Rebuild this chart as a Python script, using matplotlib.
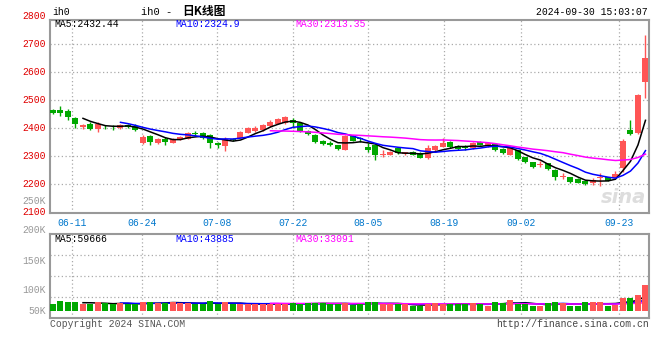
import matplotlib
matplotlib.use("Agg")
import matplotlib.pyplot as plt
import matplotlib.transforms as mtransforms
import numpy as np
import pandas as pd

# daily candles for ih0, oldest first
opens = [2465, 2466, 2462, 2436, 2405, 2415, 2398, 2405, 2405, 2400,
         2410, 2408, 2345, 2372, 2345, 2359, 2347, 2361, 2361, 2383,
         2383, 2375, 2345, 2337, 2362, 2366, 2383, 2388, 2392, 2407,
         2415, 2418, 2429, 2417, 2390, 2375, 2355, 2347, 2339, 2322,
         2372, 2365, 2333, 2340, 2302, 2304, 2327, 2307, 2315, 2311,
         2294, 2321, 2333, 2350, 2335, 2333, 2327, 2351, 2334, 2343,
         2324, 2305, 2321, 2295, 2277, 2268, 2274, 2250, 2224, 2224,
         2218, 2211, 2205, 2220, 2224, 2223, 2258, 2393, 2383, 2565]
closes = [2452, 2455, 2440, 2413, 2412, 2398, 2415, 2403, 2403, 2411,
          2405, 2393, 2369, 2351, 2361, 2351, 2361, 2369, 2383, 2377,
          2364, 2345, 2339, 2361, 2356, 2384, 2399, 2401, 2411, 2423,
          2432, 2440, 2417, 2387, 2377, 2350, 2344, 2340, 2326, 2373,
          2355, 2360, 2321, 2305, 2308, 2314, 2310, 2313, 2304, 2294,
          2329, 2337, 2347, 2331, 2325, 2328, 2348, 2341, 2345, 2321,
          2310, 2327, 2290, 2277, 2262, 2271, 2254, 2226, 2230, 2208,
          2205, 2199, 2214, 2226, 2211, 2235, 2354, 2379, 2518, 2651]
highs = [2468, 2479, 2468, 2439, 2416, 2420, 2420, 2410, 2412, 2414,
         2414, 2413, 2375, 2376, 2366, 2369, 2364, 2371, 2387, 2388,
         2386, 2377, 2351, 2369, 2365, 2388, 2402, 2406, 2415, 2427,
         2436, 2443, 2436, 2420, 2393, 2378, 2358, 2352, 2341, 2375,
         2375, 2368, 2347, 2344, 2320, 2317, 2330, 2316, 2318, 2313,
         2340, 2340, 2363, 2353, 2338, 2338, 2351, 2355, 2348, 2346,
         2327, 2330, 2323, 2298, 2280, 2281, 2276, 2253, 2238, 2226,
         2220, 2213, 2222, 2239, 2226, 2247, 2361, 2429, 2523, 2732]
lows = [2449, 2444, 2429, 2400, 2397, 2392, 2386, 2396, 2394, 2396,
        2400, 2388, 2343, 2338, 2343, 2339, 2345, 2358, 2359, 2372,
        2362, 2327, 2330, 2319, 2352, 2364, 2381, 2386, 2390, 2405,
        2413, 2416, 2400, 2385, 2374, 2346, 2338, 2336, 2322, 2320,
        2352, 2350, 2316, 2286, 2298, 2302, 2308, 2304, 2302, 2292,
        2290, 2319, 2331, 2329, 2323, 2322, 2325, 2339, 2332, 2319,
        2306, 2303, 2287, 2274, 2258, 2260, 2251, 2214, 2217, 2205,
        2203, 2197, 2195, 2193, 2209, 2221, 2243, 2375, 2380, 2506]
# volume in thousands of lots
volumes = [27, 40, 35, 35, 26, 26, 35, 30, 26, 31,
           26, 26, 35, 35, 31, 31, 35, 31, 31, 26,
           26, 40, 26, 35, 26, 26, 26, 27, 27, 27,
           27, 26, 31, 27, 31, 31, 30, 28, 27, 31,
           23, 27, 35, 35, 26, 26, 26, 26, 19, 19,
           26, 31, 27, 27, 27, 27, 31, 27, 19, 35,
           31, 45, 26, 26, 19, 19, 31, 35, 31, 19,
           19, 35, 35, 35, 19, 23, 53, 53, 64, 105]

date_labels = ["06-11", "06-24", "07-08", "07-22", "08-05", "08-19", "09-02", "09-23"]
date_pos = [2.5, 11.9, 21.9, 32, 42, 52.1, 62.4, 75.5]
price_labels = [2800, 2700, 2600, 2500, 2400, 2300, 2200, 2100]
vol_labels = ["200K", "150K", "100K", "50K"]
price_ma_text = ["MA5:2432.44", "MA10:2324.9", "MA30:2313.35"]
vol_ma_text = ["MA5:59666", "MA10:43885", "MA30:33091"]

UP = "#FF5555"
DOWN = "#00A800"
MA_COLORS = ["#000000", "#0000FF", "#FF00FF"]
FRAME = "#999999"
MONO = "Liberation Mono"

plt.rcParams["font.family"] = [MONO, "Noto Sans CJK SC"]

x = np.arange(len(closes))
o = np.array(opens, float)
c = np.array(closes, float)
up = c >= o
colors = np.where(up, UP, DOWN)

fig = plt.figure(figsize=(6.6, 3.6), dpi=100)
W, H = 660.0, 360.0
ax = fig.add_axes([50 / W, 1 - 213 / H, 599 / W, 193 / H])
axv = fig.add_axes([50 / W, 1 - 318 / H, 599 / W, 84 / H])

dot = (0, (1, 2))
for a in (ax, axv):
    a.set_xlim(-0.4, 79.47)
    for s in a.spines.values():
        s.set_color(FRAME)
        s.set_linewidth(1.5)
    a.set_xticks(date_pos)
    a.grid(True, color="#aaaaaa", linestyle=dot, linewidth=0.9)
    a.tick_params(length=0, labelleft=False)
    a.set_axisbelow(True)

# ---- price panel
ax.set_ylim(2096.4, 2785.7)
ax.set_yticks(price_labels[1:-1])
ax.set_xticklabels(date_labels)
ax.tick_params(axis="x", pad=3.5, labelcolor="#0077CC", labelsize=7)

ax.vlines(x, lows, highs, colors=colors, linewidth=1, zorder=2)
ax.bar(x, np.maximum(np.abs(c - o), 1.5), bottom=np.minimum(o, c),
       width=0.8, color=colors, zorder=3)

cs = pd.Series(closes, dtype=float)
for n, col in zip((5, 10, 30), MA_COLORS):
    ax.plot(x, cs.rolling(n).mean(), color=col, linewidth=1.1, zorder=4)

ylab = mtransforms.blended_transform_factory(ax.transAxes, ax.transData)
for p in price_labels:
    ax.text(-0.007, p, str(p), transform=ylab, ha="right", va="center",
            color="#E00000", fontsize=7, clip_on=False)
ax.text(-0.007, 2139, "250K", transform=ylab, ha="right", va="center",
        color=FRAME, fontsize=7, clip_on=False)

for txt, col, xp in zip(price_ma_text, MA_COLORS, (0.008, 0.209, 0.409)):
    ax.text(xp, 0.978, txt, transform=ax.transAxes, color=col, fontsize=7,
            ha="left", va="center")

ax.text(0.995, 0.03, "sina", transform=ax.transAxes, ha="right", va="bottom",
        fontsize=14, style="italic", weight="bold", color="#dddddd",
        family="DejaVu Sans", zorder=1)

# ---- volume panel
vlo, vhi = -29.8, 313.0
axv.set_ylim(vlo, vhi)
axv.set_yticks([vlo + f * (vhi - vlo) for f in (0.25, 0.5, 0.75)])
axv.tick_params(labelbottom=False)

vs = pd.Series(volumes, dtype=float)
for n, col in zip((5, 10, 30), MA_COLORS):
    axv.plot(x, vs.rolling(n).mean(), color=col, linewidth=1.1, zorder=2)
axv.bar(x, volumes, width=0.8, color=colors, zorder=3)

for lab, yf in zip(vol_labels, (1.048, 0.679, 0.333, 0.083)):
    axv.text(-0.007, yf, lab, transform=axv.transAxes, ha="right", va="center",
             color=FRAME, fontsize=7, clip_on=False)
for txt, col, xp in zip(vol_ma_text, MA_COLORS, (0.008, 0.209, 0.409)):
    axv.text(xp, 0.94, txt, transform=axv.transAxes, color=col, fontsize=7,
             ha="left", va="center")

# ---- header / footer
fig.text(52 / W, 1 - 12 / H, "ih0", fontsize=7, ha="left", va="center")
fig.text(141 / W, 1 - 12 / H, "ih0 -", fontsize=7.5, ha="left", va="center")
fig.text(182 / W, 1 - 12 / H, "日K线图", fontsize=8.5, weight="bold",
         family=["Noto Sans CJK SC", MONO], ha="left", va="center")
fig.text(648 / W, 1 - 12 / H, "2024-09-30 15:03:07", fontsize=7,
         ha="right", va="center")
fig.text(50 / W, 1 - 324 / H, "Copyright 2024 SINA.COM", fontsize=7,
         color="#555555", ha="left", va="center")
fig.text(649 / W, 1 - 324 / H, "http://finance.sina.com.cn", fontsize=7,
         color="#444444", ha="right", va="center")

fig.savefig("out.png", dpi=100)
